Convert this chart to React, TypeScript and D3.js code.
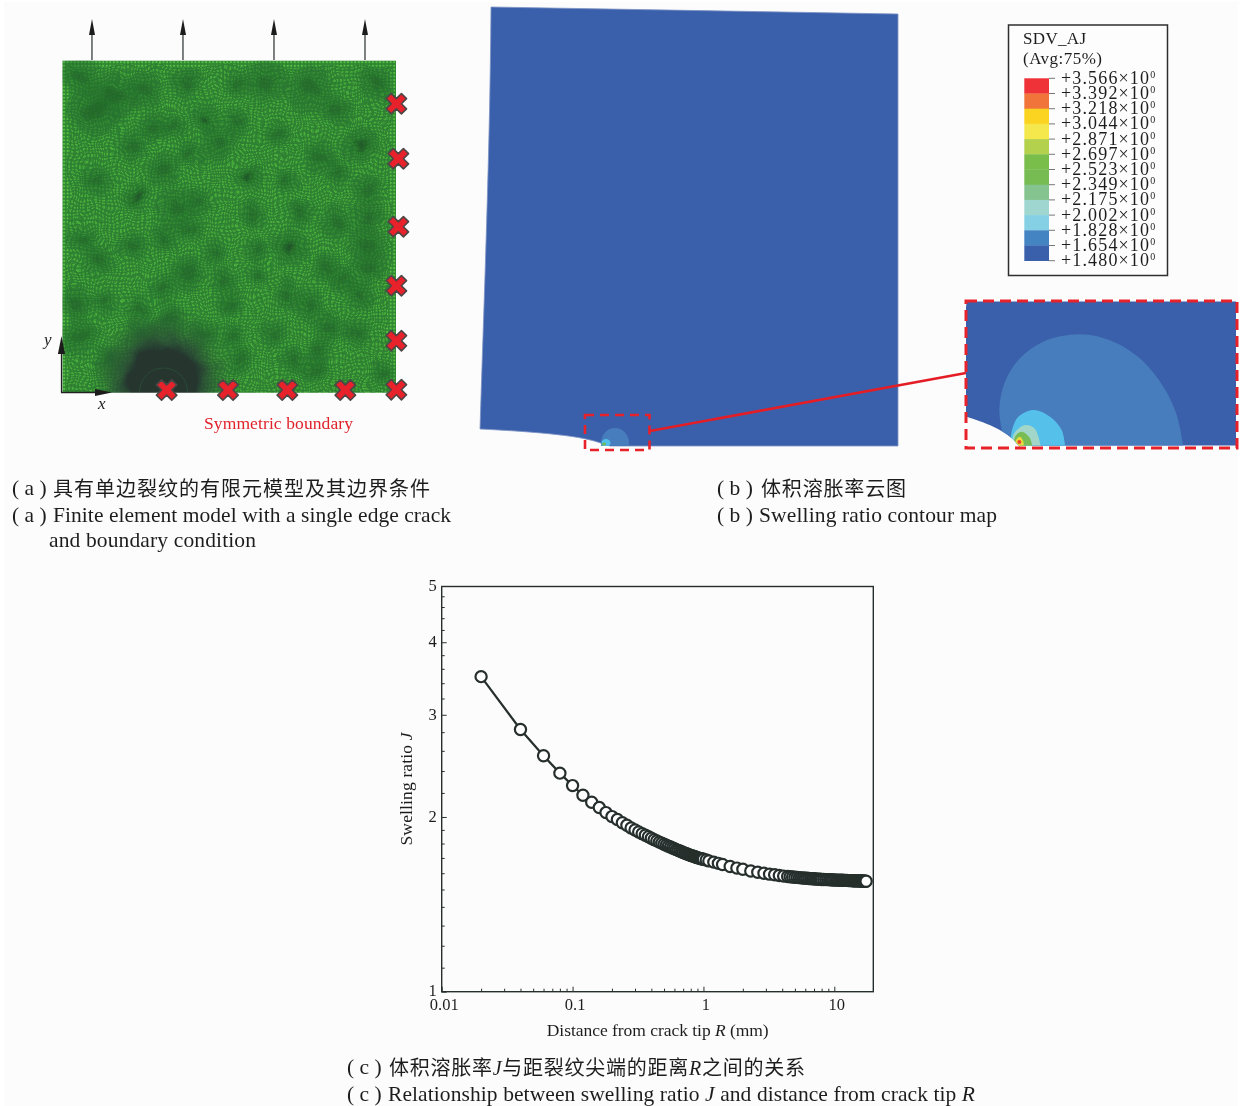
import React, { useEffect, useRef } from "react";
import * as d3 from "d3";

// ---------- panel (c) data ----------
const distance = [
  0.02, 0.04, 0.06, 0.08, 0.1, 0.12, 0.14, 0.16, 0.18, 0.2, 0.22, 0.24, 0.26, 0.28, 0.3, 0.32, 0.34, 0.36, 0.38, 0.4,
  0.42, 0.44, 0.46, 0.48, 0.5, 0.52, 0.54, 0.56, 0.58, 0.6, 0.62, 0.64, 0.66, 0.68, 0.7, 0.72, 0.74, 0.76, 0.78, 0.8,
  0.82, 0.84, 0.86, 0.88, 0.9, 0.92, 0.94, 0.96, 0.98, 1.0, 1.05, 1.1, 1.2, 1.3, 1.4, 1.6, 1.8, 2.0, 2.3, 2.6, 2.9, 3.2,
  3.5, 3.8, 4.1, 4.4, 4.6, 4.8, 5.0, 5.2, 5.4, 5.6, 5.8, 6.0, 6.2, 6.4, 6.6, 6.8, 7.0, 7.2, 7.4, 7.6, 7.8, 8.0, 8.3, 8.6,
  8.9, 9.2, 9.5, 9.8, 10.1, 10.4, 10.7, 11, 11.3, 11.6, 11.9, 12.2, 12.5, 12.8, 13.1, 13.4, 13.7, 14, 14.3, 14.6, 14.9,
  15.2, 15.5, 15.8, 16.1, 16.4, 16.7, 17, 17.3, 17.5,
];
const swelling = [
  3.49, 2.83, 2.55, 2.38, 2.265, 2.18, 2.12, 2.076, 2.035, 2.003, 1.98, 1.955, 1.935, 1.915, 1.9, 1.885, 1.872, 1.86,
  1.849, 1.838, 1.828, 1.819, 1.81, 1.803, 1.795, 1.788, 1.781, 1.775, 1.769, 1.763, 1.757, 1.752, 1.747, 1.742, 1.737,
  1.733, 1.729, 1.725, 1.721, 1.717, 1.714, 1.711, 1.708, 1.705, 1.702, 1.699, 1.697, 1.695, 1.693, 1.691, 1.686, 1.68,
  1.672, 1.664, 1.656, 1.643, 1.633, 1.625, 1.614, 1.606, 1.6, 1.594, 1.59, 1.586, 1.582, 1.579, 1.578, 1.576, 1.575,
  1.574, 1.572, 1.571, 1.57, 1.569, 1.568, 1.567, 1.566, 1.565, 1.565, 1.564, 1.563, 1.563, 1.562, 1.561, 1.561, 1.56,
  1.56, 1.559, 1.559, 1.558, 1.558, 1.557, 1.557, 1.556, 1.556, 1.556, 1.555, 1.555, 1.555, 1.554, 1.554, 1.554, 1.553,
  1.553, 1.553, 1.552, 1.552, 1.552, 1.552, 1.551, 1.551, 1.551, 1.551, 1.55, 1.55, 1.55,
];
const xMajor = [0.01, 0.1, 1, 10];
const xMajorLabels = ["0.01", "0.1", "1", "10"];
const xMinor = [
  0.02, 0.03, 0.04, 0.05, 0.06, 0.07, 0.08, 0.09, 0.2, 0.3, 0.4, 0.5, 0.6, 0.7, 0.8, 0.9, 2, 3, 4, 5, 6, 7, 8, 9,
];
const yMajor = [1, 2, 3, 4, 5];
const yMinor = [1.1, 1.2, 1.3, 1.4, 1.5, 1.6, 1.7, 1.8, 1.9, 2.2, 2.4, 2.6, 2.8, 3.2, 3.4, 3.6, 3.8, 4.2, 4.4, 4.6, 4.8];

// ---------- panel (b) legend ----------
const legendValues = [
  "3.566", "3.392", "3.218", "3.044", "2.871", "2.697", "2.523", "2.349", "2.175", "2.002", "1.828", "1.654", "1.480",
];
const legendColors = [
  "#ee3137", "#f1743a", "#fbd422", "#f5e84e", "#b3d14d", "#79bd4b", "#76bc52", "#85c38f", "#9fd6d0", "#86d0e6",
  "#4584c3", "#3a61ab",
];

// ---------- panel (a): features read in 3x-zoom picture coordinates ----------
const meshBlotches: [number, number, number][] = [
  [240, 230, 22], [285, 330, 32], [340, 290, 28], [430, 270, 22], [460, 380, 16], [520, 380, 14], [615, 355, 18],
  [710, 365, 14], [800, 245, 24], [930, 265, 28], [1130, 250, 20], [1080, 435, 22], [395, 435, 16], [570, 460, 15],
  [490, 510, 20], [660, 430, 22], [745, 535, 15], [860, 540, 13], [1010, 520, 14], [1105, 570, 18], [410, 590, 14],
  [530, 625, 24], [290, 540, 18], [600, 605, 14], [250, 720, 16], [495, 710, 14], [570, 690, 14], [770, 750, 14],
  [870, 740, 20], [295, 780, 16], [645, 760, 14], [975, 800, 16], [675, 840, 13], [775, 825, 11], [490, 870, 14],
  [315, 905, 14], [415, 920, 13], [690, 910, 14], [925, 915, 18], [985, 980, 16], [1080, 885, 16], [1070, 1000, 16],
  [875, 1085, 14], [945, 1105, 16], [720, 1080, 14], [230, 910, 18], [240, 1010, 22], [1150, 1120, 14], [1100, 730, 22],
  [1105, 650, 16], [1010, 670, 18], [560, 250, 18], [710, 250, 14], [1010, 330, 16], [830, 400, 14], [960, 470, 18],
  [400, 740, 16], [760, 640, 14], [900, 640, 16], [1030, 840, 15], [560, 820, 20], [820, 1000, 15], [610, 1000, 16],
  [1110, 800, 18], [860, 880, 15], [330, 1080, 16], [700, 1010, 14], [960, 1050, 14], [420, 1000, 18], [510, 960, 18],
];
const meshDarkSpots: [number, number, number][] = [
  [745, 535, 7], [412, 590, 6], [875, 740, 8], [1080, 435, 6], [620, 355, 6],
];
const crossesRight: [number, number][] = [
  [1189, 311], [1195, 476], [1195, 680], [1189, 857], [1189, 1022], [1189, 1169],
];
const crossesBottom: [number, number][] = [[500, 1170], [684, 1170], [862, 1170], [1036, 1170]];
const loadArrowsX = [276, 549, 822, 1095];

// ---------- inset contours, in 3x-zoom coordinates of the inset ----------
const contourMid: [number, number][] = [
  [135, 470], [126, 410], [118, 340], [135, 260], [180, 190], [250, 140], [360, 118], [460, 140], [545, 195], [610, 275],
  [650, 360], [672, 470],
];
const contourCyan: [number, number][] = [
  [150, 470], [155, 410], [175, 365], [220, 345], [270, 365], [305, 405], [317, 470],
];
const contourPale: [number, number][] = [[158, 470], [160, 420], [195, 390], [225, 402], [245, 470]];
const contourGreen: [number, number][] = [[163, 470], [165, 425], [185, 410], [210, 430], [218, 470]];
const contourYellow: [number, number][] = [[168, 470], [168, 435], [180, 425], [190, 440], [192, 470]];
const crackEdge: [number, number][] = [[-20, 355], [20, 365], [100, 395], [150, 425], [180, 455]];

const INK = "#262f2d";
const TEXT = "#1f1f1f";
const RED = "#e8202a";
const SERIF = "'Liberation Serif', serif";
const CJK = "'Noto Sans CJK SC', sans-serif";

const zx = d3.scaleLinear().domain([187, 1188]).range([62.3, 396]);
const zy = d3.scaleLinear().domain([181, 1178]).range([60.4, 392.7]);
const ix = d3.scaleLinear().domain([0, 3]).range([960, 961]);
const iy = d3.scaleLinear().domain([0, 3]).range([295, 296]);

const xScale = d3.scaleLog().domain([0.01, 18.6]).range([441.7, 441.7 + 130.87 * Math.log10(1860)]);
const yScale = d3.scaleLog().domain([1, 5]).range([991.7, 586]);

const curve = d3.line<[number, number]>().x((d) => ix(d[0])).y((d) => iy(d[1])).curve(d3.curveCatmullRom.alpha(0.5));
const linePath = d3.line<number>().x((d) => xScale(d)).y((_, i) => yScale(swelling[i]))(distance) as string;
const crossPath = d3.symbol(d3.symbolCross, 260)() as string;

function Caption(p: { x: number; y: number; width?: number; children: React.ReactNode; font?: string; size?: number }) {
  return (
    <text
      x={p.x}
      y={p.y}
      fontFamily={p.font ?? SERIF}
      fontSize={p.size ?? 21.5}
      fill={TEXT}
      textLength={p.width}
      lengthAdjust={p.width ? "spacing" : undefined}
    >
      {p.children}
    </text>
  );
}

export default function App() {
  const bottomMajor = useRef<SVGGElement>(null);
  const bottomMinor = useRef<SVGGElement>(null);
  const leftMajor = useRef<SVGGElement>(null);
  const leftMinor = useRef<SVGGElement>(null);

  useEffect(() => {
    const style = (g: d3.Selection<SVGGElement, unknown, null, undefined>) => {
      g.select(".domain").remove();
      g.selectAll("line").attr("stroke", INK).attr("stroke-width", 1);
      g.selectAll("text").attr("font-family", SERIF).attr("font-size", 16.5).attr("fill", TEXT);
    };
    d3.select(bottomMajor.current!)
      .call(
        d3.axisBottom(xScale).tickValues(xMajor).tickSizeInner(-5).tickSizeOuter(0).tickPadding(7)
          .tickFormat((_, i) => xMajorLabels[i]) as any,
      )
      .call(style);
    d3.select(bottomMajor.current!).selectAll("text").attr("dx", "2");
    d3.select(bottomMinor.current!)
      .call(d3.axisBottom(xScale).tickValues(xMinor).tickSizeInner(-3).tickSizeOuter(0).tickFormat(() => "") as any)
      .call(style);
    d3.select(leftMajor.current!)
      .call(
        d3.axisLeft(yScale).tickValues(yMajor).tickSizeInner(-5).tickSizeOuter(0).tickPadding(5)
          .tickFormat((d) => String(d)) as any,
      )
      .call(style);
    d3.select(leftMajor.current!).selectAll("text").attr("dy", "0.26em");
    d3.select(leftMinor.current!)
      .call(d3.axisLeft(yScale).tickValues(yMinor).tickSizeInner(-3).tickSizeOuter(0).tickFormat(() => "") as any)
      .call(style);
  }, []);

  const legendRow = d3.scaleLinear().domain([0, 12]).range([78.3, 260.7]);

  return (
    <svg
      width={1248}
      height={1106}
      viewBox="0 0 1248 1106"
      style={{ position: "absolute", left: 0, top: 0, display: "block", background: "#ffffff" }}
    >
      <defs>
        <filter id="soft" x="0" y="0" width="1248" height="1106" filterUnits="userSpaceOnUse">
          <feGaussianBlur stdDeviation="0.65" />
        </filter>
        <filter id="meshSoft" x="0" y="0" width="1248" height="1106" filterUnits="userSpaceOnUse">
          <feGaussianBlur stdDeviation="0.45" />
        </filter>
        <filter id="warp" x="40" y="40" width="380" height="380" filterUnits="userSpaceOnUse">
          <feTurbulence type="fractalNoise" baseFrequency="0.05" numOctaves="2" seed="7" result="n" />
          <feDisplacementMap in="SourceGraphic" in2="n" scale="14" xChannelSelector="R" yChannelSelector="G" />
        </filter>
        <filter id="blot" x="-80%" y="-80%" width="260%" height="260%">
          <feGaussianBlur stdDeviation="2" />
        </filter>
        <pattern id="mesh" width="3.55" height="3.55" patternUnits="userSpaceOnUse" x="62.3" y="60.4">
          <rect width="3.55" height="3.55" fill="#2f8334" />
          <rect x="0.8" y="0.8" width="2" height="2" fill="#55c23f" />
        </pattern>
        <radialGradient id="tip" gradientUnits="userSpaceOnUse" cx={163} cy={382} r={74}>
          <stop offset="0" stopColor="#25352f" />
          <stop offset="0.46" stopColor="#25352f" />
          <stop offset="0.56" stopColor="#2b4a35" stopOpacity="0.85" />
          <stop offset="0.78" stopColor="#2a5c33" stopOpacity="0.42" />
          <stop offset="1" stopColor="#2a6a33" stopOpacity="0" />
        </radialGradient>
        <clipPath id="meshClip">
          <rect x={62.3} y={60.4} width={333.7} height={332.3} />
        </clipPath>
        <clipPath id="insetClip">
          <path
            d={`M966.7,301.5 H1236 V445.5 H1020 L${ix(180)},${iy(450)} ${(curve(crackEdge.slice().reverse()) as string).replace(/^M/, "L")} L966.7,301.5 Z`}
          />
        </clipPath>
        <clipPath id="smallClip">
          <rect x={590} y={420} width={60} height={26} />
        </clipPath>
      </defs>

      <rect x={4} y={2} width={1234} height={1104} fill="#fcfcfc" />

      {/* ---------- panel (a) mesh ---------- */}
      <g clipPath="url(#meshClip)">
        <g filter="url(#meshSoft)">
          <rect x={62.3} y={60.4} width={333.7} height={332.3} fill="url(#mesh)" />
          <g filter="url(#warp)">
            <rect x={68} y={66} width={322} height={332} fill="url(#mesh)" />
            <rect x={68} y={66} width={322} height={332} fill="#236f2d" opacity={0.22} />
            {meshBlotches.map(([x, y, r], i) => (
              <circle key={i} cx={zx(x)} cy={zy(y)} r={(r * 2.2) / 3 + 3} fill="#27702e" opacity={0.5} filter="url(#blot)" />
            ))}
            {meshBlotches.map(([x, y, r], i) => (
              <ellipse key={i} cx={zx(x)} cy={zy(y)} rx={r / 3 + 1} ry={(r * 0.8) / 3 + 1} fill="#22632c" opacity={0.6} filter="url(#blot)" />
            ))}
            {meshDarkSpots.map(([x, y, r], i) => (
              <circle key={i} cx={zx(x)} cy={zy(y)} r={r / 3 + 0.6} fill="#1d3a28" opacity={0.7} filter="url(#blot)" />
            ))}
            <circle cx={163} cy={382} r={74} fill="url(#tip)" />
          </g>
          <ellipse cx={163.5} cy={392} rx={33} ry={36} fill="#25352f" />
          <circle cx={163.5} cy={392} r={24} fill="none" stroke="#2f5a3a" strokeWidth={1} opacity={0.55} />
        </g>
      </g>

      <g filter="url(#soft)">
        {loadArrowsX.map((x) => (
          <g key={x}>
            <line x1={zx(x)} x2={zx(x)} y1={60} y2={28} stroke={INK} strokeWidth={1.2} />
            <path d={`M${zx(x)},19 l3,16 h-6 Z`} fill="#1c1c1c" />
          </g>
        ))}
        <line x1={61.5} x2={61.5} y1={392.5} y2={345} stroke="#222" strokeWidth={1.3} />
        <path d="M61.5,336 l3.6,18 h-7.2 Z" fill="#1c1c1c" />
        <line x1={61} x2={100} y1={392.5} y2={392.5} stroke="#222" strokeWidth={1.5} />
        <path d="M112,392.5 l-17,-3.6 v7.2 Z" fill="#1c1c1c" />
        <text x={44} y={345} fontFamily={SERIF} fontStyle="italic" fontSize={17} fill={TEXT}>y</text>
        <text x={98} y={409} fontFamily={SERIF} fontStyle="italic" fontSize={17} fill={TEXT}>x</text>
        {[...crossesRight, ...crossesBottom].map(([x, y], i) => (
          <path
            key={i}
            d={crossPath}
            transform={`translate(${zx(x)},${zy(y)}) rotate(45)`}
            fill={RED}
            stroke="#4d4646"
            strokeWidth={1.6}
            strokeLinejoin="round"
          />
        ))}
        <text x={204} y={429} fontFamily={SERIF} fontSize={17.5} fill="#e0232c" textLength={149}>Symmetric boundary</text>

        {/* ---------- panel (b) ---------- */}
        <path
          d="M491,7 L898,14 L898,446 L610,446 L603,444 C585,436 540,432 480,429 C484,300 490,150 491,7 Z"
          fill="#3a61ab"
          stroke="#7f93c4"
          strokeWidth={0.8}
        />
        <g clipPath="url(#smallClip)">
          <ellipse cx={615} cy={443} rx={14} ry={15} fill="#477dbd" />
          <ellipse cx={606} cy={443} rx={4.5} ry={4} fill="#52bfe8" />
          <ellipse cx={604} cy={444} rx={2} ry={1.6} fill="#6dbb55" />
        </g>
        <rect x={585} y={415} width={64.5} height={35} fill="none" stroke={RED} strokeWidth={2.6} strokeDasharray="9 6" />
        <line x1={650} y1={431} x2={966} y2={373} stroke="#e41f26" strokeWidth={2.6} />

        <g clipPath="url(#insetClip)">
          <rect x={966} y={301} width={271} height={146} fill="#3a61ab" />
          <path d={curve(contourMid) as string} fill="#477dbd" />
          <path d={curve(contourCyan) as string} fill="#54c1ea" />
          <path d={curve(contourPale) as string} fill="#a2d6c8" />
          <path d={curve(contourGreen) as string} fill="#77bc55" />
          <path d={curve(contourYellow) as string} fill="#e9d93c" />
          <circle cx={ix(178)} cy={iy(441)} r={2} fill="#e8472f" />
        </g>
        <rect x={966} y={301} width={271} height={147} fill="none" stroke={RED} strokeWidth={3} strokeDasharray="11 6" />

        {/* legend */}
        <rect x={1008.5} y={25} width={159} height={250.5} fill="#fdfdfd" stroke="#2f2f2f" strokeWidth={1.5} />
        <text x={1023} y={44} fontFamily={SERIF} fontSize={17} fill={TEXT} textLength={63}>SDV_AJ</text>
        <text x={1023} y={64} fontFamily={SERIF} fontSize={17} fill={TEXT} textLength={79}>(Avg:75%)</text>
        {legendColors.map((c, i) => (
          <rect key={c + i} x={1024.3} y={legendRow(i)} width={24.7} height={legendRow(i + 1) - legendRow(i) + 0.3} fill={c} />
        ))}
        {legendValues.map((v, i) => (
          <g key={v}>
            <line x1={1049} x2={1055} y1={legendRow(i)} y2={legendRow(i)} stroke="#555" strokeWidth={0.8} />
            <text x={1061} y={legendRow(i) + 5.5} fontFamily={SERIF} fontSize={18} fill={TEXT}>
              <tspan textLength={88}>{`+${v}×10`}</tspan>
              <tspan dy={-6} fontSize={10}>0</tspan>
            </text>
          </g>
        ))}

        {/* captions */}
        <Caption x={12} y={495}>( a )</Caption>
        <Caption x={53} y={496} width={377} size={20} font={CJK}>具有单边裂纹的有限元模型及其边界条件</Caption>
        <Caption x={12} y={522}>( a )</Caption>
        <Caption x={53} y={522} width={398}>Finite element model with a single edge crack</Caption>
        <Caption x={49} y={547} width={207}>and boundary condition</Caption>
        <Caption x={717} y={495}>( b )</Caption>
        <Caption x={761} y={496} width={145} size={20} font={CJK}>体积溶胀率云图</Caption>
        <Caption x={717} y={522}>( b )</Caption>
        <Caption x={759} y={522} width={238}>Swelling ratio contour map</Caption>

        {/* ---------- panel (c) ---------- */}
        <rect x={441.7} y={586.5} width={431.6} height={405.2} fill="none" stroke={INK} strokeWidth={1.4} />
        <g ref={bottomMajor} transform="translate(0,991.7)" />
        <g ref={bottomMinor} transform="translate(0,991.7)" />
        <g ref={leftMajor} transform="translate(441.7,0)" />
        <g ref={leftMinor} transform="translate(441.7,0)" />
        <path d={linePath} fill="none" stroke={INK} strokeWidth={2.2} />
        {distance.map((d, i) => (
          <circle key={d} cx={xScale(d)} cy={yScale(swelling[i])} r={5.6} fill="#ffffff" stroke={INK} strokeWidth={2.2} />
        ))}
        <text x={657.7} y={1036} textAnchor="middle" fontFamily={SERIF} fontSize={17.5} fill={TEXT} textLength={222}>
          Distance from crack tip <tspan fontStyle="italic">R</tspan> (mm)
        </text>
        <text
          transform="translate(412,789) rotate(-90)"
          textAnchor="middle"
          fontFamily={SERIF}
          fontSize={17.5}
          fill={TEXT}
          textLength={113}
        >
          Swelling ratio <tspan fontStyle="italic">J</tspan>
        </text>
        <Caption x={347} y={1074}>( c )</Caption>
        <Caption x={389} y={1075} width={416} size={20} font={CJK}>
          体积溶胀率<tspan fontFamily={SERIF} fontStyle="italic">J</tspan>与距裂纹尖端的距离
          <tspan fontFamily={SERIF} fontStyle="italic">R</tspan>之间的关系
        </Caption>
        <Caption x={347} y={1101}>( c )</Caption>
        <Caption x={388} y={1101} width={587}>
          Relationship between swelling ratio <tspan fontStyle="italic">J</tspan> and distance from crack tip{" "}
          <tspan fontStyle="italic">R</tspan>
        </Caption>
      </g>
    </svg>
  );
}
